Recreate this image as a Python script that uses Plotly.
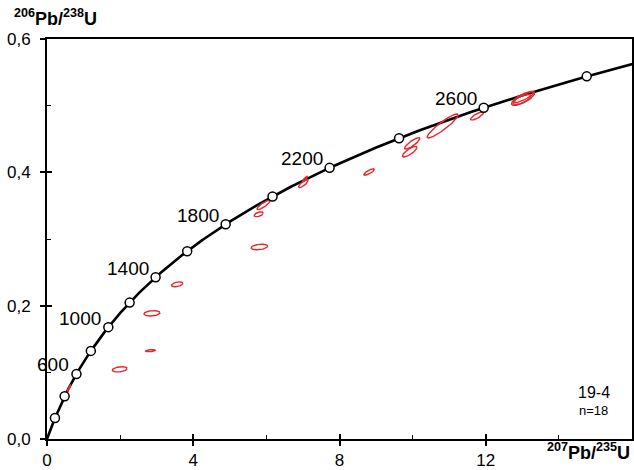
import numpy as np
import plotly.graph_objects as go

# Decay constants (per year)
LAMBDA_238 = 1.55125e-10
LAMBDA_235 = 9.8485e-10

# Concordia age markers (Ma) and labelled ages
marker_ages = [200, 400, 600, 800, 1000, 1200, 1400, 1600, 1800, 2000, 2200, 2400, 2600, 2800]
label_ages = [600, 1000, 1400, 1800, 2200, 2600]
curve_max_age = 2900

# Analyses (ellipse centres, 2-sigma half extents, error correlation)
ell_x = [0.60, 1.99, 2.83, 2.87, 3.56, 5.81, 5.92, 5.79, 7.01, 7.06, 8.81, 9.92, 9.99, 10.82, 11.76, 13.02, 13.05, 12.99]
ell_y = [0.0765, 0.1045, 0.1325, 0.1885, 0.232, 0.288, 0.351, 0.337, 0.383, 0.390, 0.4005, 0.431, 0.4435, 0.4695, 0.4845, 0.5108, 0.5130, 0.5093]
ell_sx = [0.05, 0.205, 0.136, 0.22, 0.155, 0.227, 0.177, 0.123, 0.13, 0.07, 0.145, 0.2, 0.21, 0.424, 0.178, 0.314, 0.273, 0.246]
ell_sy = [0.005, 0.004, 0.0016, 0.004, 0.0037, 0.0042, 0.007, 0.0037, 0.006, 0.004, 0.0048, 0.008, 0.0085, 0.018, 0.006, 0.0105, 0.0083, 0.0075]
ell_rho = [0.93, 0.3, 0.3, 0.2, 0.4, 0.3, 0.85, 0.5, 0.8, 0.85, 0.8, 0.8, 0.85, 0.92, 0.8, 0.75, 0.85, 0.7]

sample_name = "19-4"
sample_n = "n=18"

x_ticks = [0, 4, 8, 12]
x_ticktext = ["0", "4", "8", "12"]
y_ticks = [0.0, 0.2, 0.4, 0.6]
y_ticktext = ["0,0", "0,2", "0,4", "0,6"]


def conc_x(t_ma):
    return np.expm1(LAMBDA_235 * np.asarray(t_ma, dtype=float) * 1e6)


def conc_y(t_ma):
    return np.expm1(LAMBDA_238 * np.asarray(t_ma, dtype=float) * 1e6)


FONT = "Arial, 'Liberation Sans', sans-serif"
RED = "#e8262b"

fig = go.Figure()

# Concordia curve
t_curve = np.linspace(0, curve_max_age, 600)
fig.add_trace(go.Scatter(x=conc_x(t_curve), y=conc_y(t_curve), mode="lines",
                         line=dict(color="black", width=2.6), hoverinfo="skip",
                         showlegend=False))

# Error ellipses
theta = np.linspace(0, 2 * np.pi, 120)
for cx, cy, sx, sy, r in zip(ell_x, ell_y, ell_sx, ell_sy, ell_rho):
    ex = cx + sx * np.cos(theta)
    ey = cy + sy * (r * np.cos(theta) + np.sqrt(1 - r * r) * np.sin(theta))
    fig.add_trace(go.Scatter(x=ex, y=ey, mode="lines",
                             line=dict(color=RED, width=1.4),
                             hoverinfo="skip", showlegend=False))

# Age markers
fig.add_trace(go.Scatter(x=conc_x(marker_ages), y=conc_y(marker_ages), mode="markers",
                         marker=dict(size=9, color="white",
                                     line=dict(color="black", width=1.5)),
                         showlegend=False, cliponaxis=False))

# Age labels
for a in label_ages:
    fig.add_annotation(x=float(conc_x(a)), y=float(conc_y(a)), text=str(a),
                       showarrow=False, xanchor="right", yanchor="middle",
                       xshift=-5, yshift=9,
                       font=dict(family=FONT, size=19, color="black"))

# Empty trace to show the overlay (inside-tick) axes
fig.add_trace(go.Scatter(x=[None], y=[None], xaxis="x2", yaxis="y2",
                         showlegend=False, hoverinfo="skip"))

fig.add_annotation(xref="paper", yref="paper", x=0.935, y=0.117, text=sample_name,
                   showarrow=False, xanchor="center", yanchor="middle",
                   font=dict(family=FONT, size=16, color="black"))
fig.add_annotation(xref="paper", yref="paper", x=0.935, y=0.0725, text=sample_n,
                   showarrow=False, xanchor="center", yanchor="middle",
                   font=dict(family=FONT, size=13, color="black"))

# Axis titles
fig.add_annotation(xref="paper", yref="paper", x=-0.06, y=1.053,
                   text="<b><sup>206</sup>Pb/<sup>238</sup>U</b>",
                   showarrow=False, xanchor="left", yanchor="middle",
                   font=dict(family=FONT, size=18, color="black"))
fig.add_annotation(xref="paper", yref="paper", x=1.0, y=-0.03,
                   text="<b><sup>207</sup>Pb/<sup>235</sup>U</b>",
                   showarrow=False, xanchor="right", yanchor="middle",
                   font=dict(family=FONT, size=18, color="black"))

fig.update_layout(
    width=634, height=470,
    margin=dict(l=47, r=2, t=39, b=31, autoexpand=False),
    paper_bgcolor="white", plot_bgcolor="white",
    showlegend=False,
    xaxis=dict(range=[0, 16], tickmode="array", tickvals=x_ticks, ticktext=x_ticktext,
               ticks="outside", ticklen=5, tickwidth=1.5, tickcolor="black",
               showline=True, linewidth=2, linecolor="black", mirror=True,
               showgrid=False, zeroline=False, ticklabelstandoff=0, automargin=False,
               tickfont=dict(family=FONT, size=17, color="black")),
    yaxis=dict(range=[0, 0.6], tickmode="array", tickvals=y_ticks, ticktext=y_ticktext,
               ticks="outside", ticklen=5, tickwidth=1.5, tickcolor="black",
               showline=True, linewidth=2, linecolor="black", mirror=True,
               showgrid=False, zeroline=False, ticklabelstandoff=6, automargin=False,
               tickfont=dict(family=FONT, size=17, color="black")),
    xaxis2=dict(range=[0, 16], overlaying="x", anchor="y2", side="bottom",
                tickmode="linear", tick0=0, dtick=4, ticks="inside", ticklen=5,
                tickwidth=1.5, tickcolor="black", showticklabels=False, automargin=False,
                showline=False, showgrid=False, zeroline=False,
                minor=dict(ticks="inside", ticklen=4, tickwidth=1.2, tickcolor="black",
                           tick0=0, dtick=2, showgrid=False)),
    yaxis2=dict(range=[0, 0.6], overlaying="y", anchor="x2", side="left",
                tickmode="linear", tick0=0, dtick=0.2, ticks="inside", ticklen=5,
                tickwidth=1.5, tickcolor="black", showticklabels=False, automargin=False,
                showline=False, showgrid=False, zeroline=False,
                minor=dict(ticks="inside", ticklen=4, tickwidth=1.2, tickcolor="black",
                           tick0=0, dtick=0.1, showgrid=False)),
)

fig.write_html("out.html")
